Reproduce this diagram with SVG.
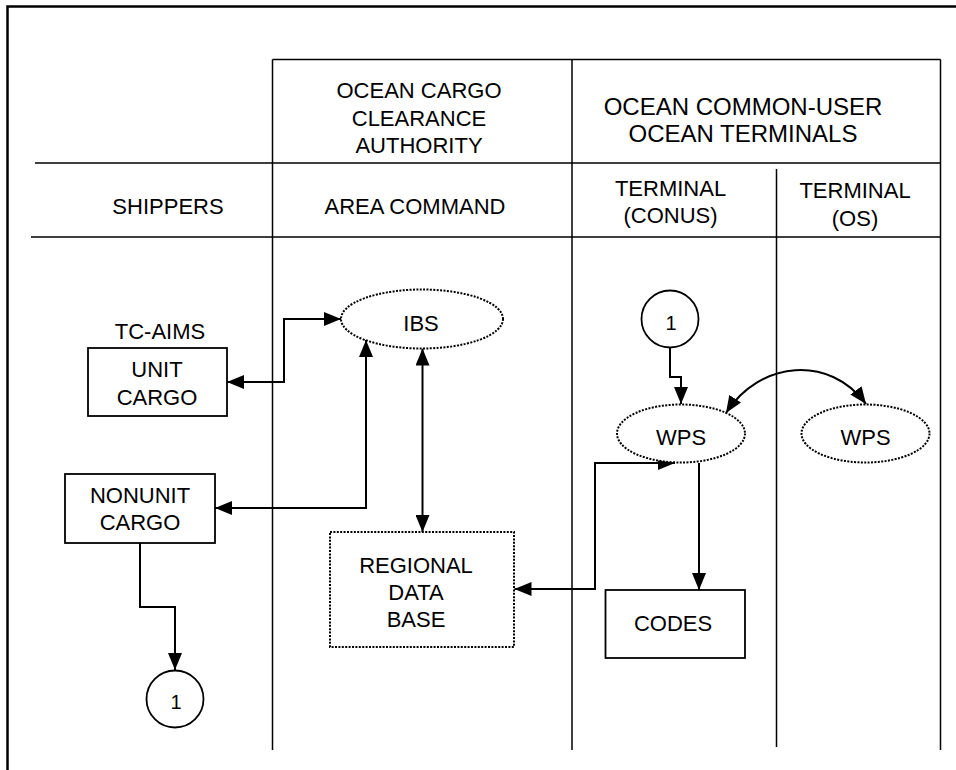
<svg xmlns="http://www.w3.org/2000/svg" width="956" height="770" viewBox="0 0 956 770">
<style>
text{font-family:"Liberation Sans",Arial,sans-serif;font-size:22px;fill:#000;text-anchor:middle}
.grid{stroke:#000;stroke-width:1.5;fill:none}
.box{stroke:#000;stroke-width:1.8;fill:#fff}
.dot{stroke:#000;stroke-width:2;stroke-dasharray:2 1.4;fill:#fff}
.con{stroke:#000;stroke-width:2;fill:none}
.big{font-size:24px}
.num{font-size:20px}
</style>
<defs>
<marker id="arr" viewBox="0 0 17 14" refX="17" refY="7" markerWidth="17" markerHeight="14" markerUnits="userSpaceOnUse" orient="auto-start-reverse">
<path d="M0,0 L17,7 L0,14 z" fill="#000"/>
</marker>
</defs>
<rect width="956" height="770" fill="#fff"/>
<g id="frame">
<path d="M7.5 770 V6.5 H956" stroke="#000" stroke-width="2.5" fill="none"/>
</g>
<g id="table">
<path class="grid" d="M272.5 59.5 H940.5 M272.5 59.5 V750 M572 59.5 V750 M940.5 59.5 V750 M776.5 169 V747 M35 163 H940.5 M31 237 H940.5"/>
<text x="419" y="98">OCEAN CARGO</text>
<text x="419" y="125.5">CLEARANCE</text>
<text x="419" y="153">AUTHORITY</text>
<text class="big" x="743" y="115">OCEAN COMMON-USER</text>
<text class="big" x="743" y="142">OCEAN TERMINALS</text>
<text x="168" y="214">SHIPPERS</text>
<text x="415" y="214">AREA COMMAND</text>
<text x="670.5" y="196">TERMINAL</text>
<text x="670.5" y="223">(CONUS)</text>
<text x="855" y="198">TERMINAL</text>
<text x="855" y="226">(OS)</text>
</g>
<g id="connectors">
<path class="con" marker-start="url(#arr)" marker-end="url(#arr)" d="M227 382 H284 V319 H341"/>
<path class="con" marker-start="url(#arr)" marker-end="url(#arr)" d="M215 508 H366 V340"/>
<path class="con" marker-start="url(#arr)" marker-end="url(#arr)" d="M422.5 348.5 V532"/>
<path class="con" marker-end="url(#arr)" d="M140 543 V607 H175 V670"/>
<path class="con" marker-end="url(#arr)" d="M670 348 V377 H681 V404"/>
<path class="con" marker-start="url(#arr)" marker-end="url(#arr)" d="M514.5 589 H595 V463 H675"/>
<path class="con" marker-end="url(#arr)" d="M699 463 V590"/>
<path class="con" marker-start="url(#arr)" marker-end="url(#arr)" d="M726 413 C760 360 830 355 866 404"/>
</g>
<g id="tc-aims-label">
<text x="160" y="339">TC-AIMS</text>
</g>
<g id="unit-cargo">
<rect class="box" x="88" y="348" width="139" height="68"/>
<text x="157" y="377">UNIT</text>
<text x="157" y="405">CARGO</text>
</g>
<g id="nonunit-cargo">
<rect class="box" x="65" y="474" width="150" height="69"/>
<text x="140" y="503">NONUNIT</text>
<text x="140" y="530">CARGO</text>
</g>
<g id="ibs">
<ellipse class="dot" cx="422" cy="319" rx="81" ry="29.5"/>
<text x="421" y="331">IBS</text>
</g>
<g id="regional-data-base">
<rect class="dot" x="330" y="532" width="184" height="115"/>
<text x="416" y="573">REGIONAL</text>
<text x="416" y="600">DATA</text>
<text x="416" y="627">BASE</text>
</g>
<g id="connector-1-top">
<circle class="box" cx="670" cy="319" r="28.5"/>
<text class="num" x="671" y="330">1</text>
</g>
<g id="wps-conus">
<ellipse class="dot" cx="681" cy="433.5" rx="64" ry="29"/>
<text x="681" y="445">WPS</text>
</g>
<g id="wps-os">
<ellipse class="dot" cx="865.5" cy="433.5" rx="64" ry="29"/>
<text x="865.5" y="445">WPS</text>
</g>
<g id="codes">
<rect class="box" x="605.5" y="590" width="139.5" height="68"/>
<text x="673" y="631">CODES</text>
</g>
<g id="connector-1-bottom">
<circle class="box" cx="175" cy="699" r="28.5"/>
<text class="num" x="176" y="709">1</text>
</g>
</svg>
